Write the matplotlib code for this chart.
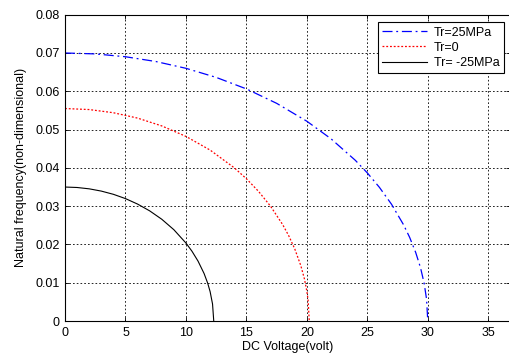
import matplotlib
matplotlib.use("Agg")
import matplotlib.pyplot as plt

plt.rcParams['font.family'] = ['Liberation Sans', 'DejaVu Sans']

# values
v_pos = [0, 2.5, 5, 7.5, 10, 12.5, 15, 17.5, 20, 22, 24, 25, 26, 27, 28, 28.5, 29, 29.4, 29.7, 29.9, 30]
f_pos = [0.0700, 0.06976, 0.06902, 0.06778, 0.06600, 0.06363, 0.06062, 0.05686, 0.05218, 0.04759,
         0.0420, 0.03869, 0.03492, 0.03051, 0.02513, 0.02186, 0.01792, 0.01393, 0.00987, 0.00571, 0.0]

v_zero = [0, 2, 4, 6, 8, 10, 12, 14, 15, 16, 17, 18, 18.5, 19, 19.5, 19.8, 20, 20.1, 20.2]
f_zero = [0.0555, 0.05523, 0.05440, 0.05300, 0.05096, 0.04822, 0.04465, 0.04001, 0.03717, 0.03388,
          0.02998, 0.02519, 0.02229, 0.01884, 0.01448, 0.01099, 0.00779, 0.00552, 0.0]

v_neg = [0, 1, 2, 3, 4, 5, 6, 7, 8, 9, 10, 10.5, 11, 11.5, 11.8, 12, 12.2, 12.3]
f_neg = [0.0350, 0.03488, 0.03453, 0.03394, 0.03310, 0.03198, 0.03055, 0.02878, 0.02659, 0.02386,
         0.02038, 0.01823, 0.01566, 0.01242, 0.00988, 0.00768, 0.00445, 0.0]

x_ticks = [0, 5, 10, 15, 20, 25, 30, 35]
y_ticks = [0, 0.01, 0.02, 0.03, 0.04, 0.05, 0.06, 0.07, 0.08]
y_labels = ['0', '0.01', '0.02', '0.03', '0.04', '0.05', '0.06', '0.07', '0.08']

fig = plt.figure(figsize=(5.1, 3.54), dpi=100)
ax = fig.add_axes([0.1275, 0.093, 0.8725, 0.8655])

ax.plot(v_pos, f_pos, color='blue', linestyle=(0, (8, 3, 1.5, 3)), linewidth=0.9, label='Tr=25MPa')
ax.plot(v_zero, f_zero, color='red', linestyle=(0, (1.5, 1.5)), linewidth=0.9, label='Tr=0')
ax.plot(v_neg, f_neg, color='black', linestyle='-', linewidth=0.8, label='Tr= -25MPa')

ax.set_xlim(0, 36.8)
ax.set_ylim(0, 0.08)
ax.set_xticks(x_ticks)
ax.set_yticks(y_ticks)
ax.set_yticklabels(y_labels)
ax.tick_params(direction='in', labelsize=9, length=3, width=0.6, top=True, right=True, pad=4)
ax.grid(True, color='black', linestyle=(0, (2, 2.5)), linewidth=0.6)
for s in ax.spines.values():
    s.set_linewidth(0.8)

ax.set_xlabel('DC Voltage(volt)', fontsize=9, labelpad=2)
ax.set_ylabel('Natural frequency(non-dimensional)', fontsize=9, labelpad=6)

leg = ax.legend(loc='upper right', fontsize=9, fancybox=False, framealpha=1,
                edgecolor='black', handlelength=3.6, handletextpad=0.5, borderpad=0.35,
                labelspacing=0.25, borderaxespad=0, bbox_to_anchor=(0.986, 0.975))
leg.get_frame().set_linewidth(0.8)

fig.savefig('out.png', dpi=100)
